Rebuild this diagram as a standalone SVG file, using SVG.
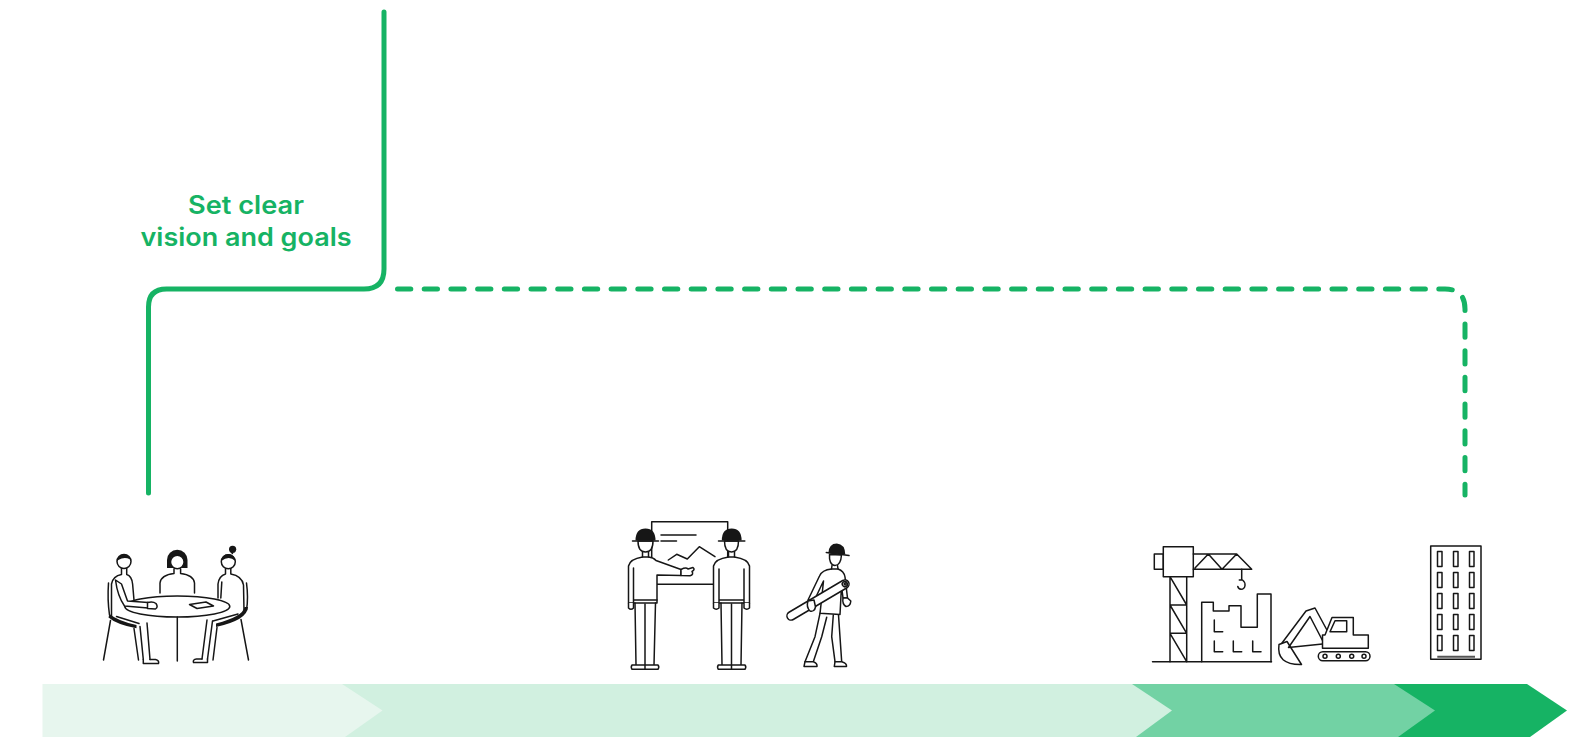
<svg xmlns="http://www.w3.org/2000/svg" width="1588" height="737" viewBox="0 0 1588 737">
  <style>
    .ln { fill: none; stroke: #161616; stroke-width: 1.5; stroke-linecap: round; stroke-linejoin: round; }
    .wf { fill: #ffffff; stroke: #161616; stroke-width: 1.5; stroke-linejoin: round; }
    .blk { fill: #161616; stroke: none; }
    .route { fill: none; stroke: #16b364; stroke-width: 5; stroke-linecap: round; stroke-linejoin: round; }
    .label { font-family: "Inter", "Liberation Sans", sans-serif; font-weight: 600; font-size: 25px; fill: #16b364; text-anchor: middle; }
  </style>

  <rect x="0" y="0" width="1588" height="737" fill="#ffffff"/>

  <!-- timeline band: stages drawn right to left so each overlaps the next -->
  <g id="timeline">
    <polygon points="1390,684 1527,684 1567,710.5 1530,737 1390,737" fill="#16b364"/>
    <polygon points="1130,684 1394,684 1435,710.5 1398,737 1130,737" fill="#72d2a4"/>
    <polygon points="340,684 1132,684 1172,710.5 1136,737 340,737" fill="#d1f0e0"/>
    <polygon points="42.5,684 342,684 382.5,710.5 345,737 42.5,737" fill="#e7f6ee"/>
  </g>

  <!-- connectors -->
  <g id="connectors">
    <path class="route" d="M148.5,493 L148.5,307 Q148.5,289 166.5,289 L364,289 Q384,289 384,269 L384,12"/>
    <path class="route" stroke-dasharray="13.3 13.4" d="M397.5,289 L1445,289 Q1465,289 1465,309 L1465,495"/>
  </g>

  <g id="label-vision">
    <text class="label" x="246" y="213.5" textLength="116" lengthAdjust="spacingAndGlyphs">Set clear</text>
    <text class="label" x="246" y="246" textLength="211" lengthAdjust="spacingAndGlyphs">vision and goals</text>
  </g>

  <!-- team meeting around a round table -->
  <g id="node-meeting">
    <!-- middle person -->
    <path class="blk" d="M167,568 L167,560 A10.2,10.2 0 0 1 187.5,560 L187.5,568 Z"/>
    <circle class="wf" cx="177.3" cy="562" r="6.8"/>
    <path class="ln" d="M174,569 L174,573.5 M180.6,569 L180.6,573.5 M174,573.5 Q161,575 160,583 L160,593 M180.6,573.5 Q193.5,575 194.5,583 L194.5,593"/>

    <!-- right person -->
    <path class="ln" d="M231.5,552 L232.5,553.5"/>
    <circle class="blk" cx="232.6" cy="549.3" r="3.6"/>
    <circle class="wf" cx="228.3" cy="561.8" r="7"/>
    <path class="blk" d="M221.3,561 A7,7 0 0 1 235.3,561 Q229,555 221.3,561 Z"/>
    <path class="ln" d="M225.5,569 L225.5,574 M230.8,569 L230.8,574 M225.5,574 Q219,576 218,584 L218,598 M230.8,574 Q242,576 243.5,585 L244,611 M221.8,582 L220.8,598"/>
    <path class="ln" d="M246.5,583 Q248.5,598 246.5,610"/>
    <path class="blk" d="M244.5,607 Q243,616.5 216,623.5 L216,627 Q247.5,620 248,607 Z"/>
    <path class="ln" d="M241,619.5 L248.5,660 M217,627.5 L213,660 M207,620 L202,659 M212.5,621 L207.5,659 M213,621 L238,614"/>
    <path class="ln" d="M207.5,659 L207.5,662.5 L193.5,662.5 Q192.5,659.5 196.5,659 L202,659"/>

    <!-- left person -->
    <circle class="wf" cx="124" cy="561.5" r="7"/>
    <path class="blk" d="M117,561.5 A7,7 0 0 1 131,561.5 L129.8,559.3 Q124.5,556.2 118.3,560 Z"/>
    <path class="ln" d="M121.5,568.5 L121.5,574.5 M126.7,568.5 L126.7,574.5 M121.5,574.5 Q113,576 111.5,584 L111.5,616 M126.7,574.5 Q131.8,576 132.6,584 L134,600"/>
    <path class="ln" d="M108.5,583 Q107.3,600 109.5,615"/>
    <path class="blk" d="M109.5,614 Q118,621 136.5,625 L136.5,628.3 Q116.5,624.5 108.5,617.5 Z"/>
    <path class="ln" d="M110.5,620.5 L103.5,660 M134,628.5 L138.5,660"/>
    <path class="ln" d="M116.5,616.5 L139,623.5 M140,626.5 L143.3,659.5 M147,623 L150,659.5"/>
    <path class="ln" d="M143.3,659.5 L143.3,663.5 L158.5,663.5 Q159.5,660.5 155.5,659.5 L150,659.5"/>

    <!-- table -->
    <ellipse class="wf" cx="177.3" cy="606.5" rx="52.5" ry="10.5"/>
    <path class="ln" d="M177.3,617 L177.3,661"/>
    <polygon class="wf" points="189.5,604.5 206,602 213.5,606 197,608.5"/>

    <!-- left person's arm resting on the table -->
    <path class="wf" d="M115.5,580 Q117.5,596 124.5,606 L148,608 L148,602.5 L127.5,601 L121.5,584 Z"/>
    <path class="wf" d="M147.5,602.5 Q153,601 156,603.5 Q158.5,607 155.5,609 L147.5,608.5 Z"/>
  </g>

  <!-- planning: two engineers at a board -->
  <g id="node-planning">
    <rect class="wf" x="651.7" y="521.7" width="76" height="62.6"/>
    <path class="ln" d="M661,535 L696,535 M661,541 L676.5,541"/>
    <path class="ln" d="M668.3,560 L676.7,554.3 L687.3,559 L699.3,546.7 L715,556.7"/>

    <!-- presenter -->
    <path class="wf" d="M642.5,557 Q630,559 628.5,566 L628.5,603 L657,603 L657,575 L681,575.5 L681,569.5 L656,560.5 Q653.5,557.5 648.5,557 Z"/>
    <path class="ln" d="M633.5,568 L633.5,603 M633.5,600 L657,600"/>
    <path class="wf" d="M681,569.5 Q686,567 688,569 L693,567.5 Q695.5,569.5 692,571.5 Q694,574.5 690,575.8 L681,575.5 Z"/>
    <path class="wf" d="M628.5,603 L628.5,608 Q631,610.5 633.5,608 L633.5,603"/>
    <path class="ln" d="M635,603 L636,665 M645,604 L645,665 M655.5,603 L654,665"/>
    <path class="wf" d="M632,665 L645,665 L645,669.3 L632,669.3 Q630.5,667 632,665 Z M645,665 L658,665 Q659.6,667 658,669.3 L645,669.3 Z"/>
    <path class="ln" d="M642.5,552 L642.5,557 M648.5,552 L648.5,557"/>
    <path class="wf" d="M638,541 C638,549 641,552 645.5,552 C650,552 653,549 653,541 Z"/>
    <path class="blk" d="M635.5,540.5 Q635.5,528.5 645.5,528.5 Q655.5,528.5 655.5,540.5 Z"/>
    <path class="ln" stroke-width="1.8" d="M632.5,541 L658.5,541"/>

    <!-- second engineer -->
    <path class="wf" d="M728.5,557 Q715,559 713.5,566 L713.5,603 L749.5,603 L749.5,566 Q748,559 734.5,557 Z"/>
    <path class="ln" d="M719,569 L719,603 M744,569 L744,603 M719,600 L744,600"/>
    <path class="wf" d="M713.5,603 L713.5,608 Q716.2,610.5 719,608 L719,603 M744,603 L744,608 Q746.7,610.5 749.5,608 L749.5,603"/>
    <path class="ln" d="M721,603 L722,665 M731.5,604 L731.5,665 M742,603 L741,665"/>
    <path class="wf" d="M718.3,665 L731.5,665 L731.5,669.3 L718.3,669.3 Q716.8,667 718.3,665 Z M731.5,665 L745,665 Q746.6,667 745,669.3 L731.5,669.3 Z"/>
    <path class="ln" d="M728.5,552 L728.5,557 M734.5,552 L734.5,557"/>
    <path class="wf" d="M724.5,541 C724.5,549 727.5,552 731.5,552 C735.5,552 738.5,549 738.5,541 Z"/>
    <path class="blk" d="M721.8,540.5 Q721.8,528.5 731.7,528.5 Q741.6,528.5 741.6,540.5 Z"/>
    <path class="ln" stroke-width="1.8" d="M718.5,541 L744.8,541"/>
  </g>

  <!-- worker carrying a rolled plan -->
  <g id="node-worker">
    <path class="ln" d="M820,613.3 L815,636.7 L805,661.7 M826.7,617.3 L821.7,636.7 L813.3,661.7"/>
    <path class="ln" d="M833.3,615 L831.7,636.7 L835,661.7 M838.5,615 L841.7,661.7"/>
    <path class="wf" d="M805,661.7 L804,666.5 L817,666.5 Q817.5,663 813.3,661.7 Z M835,661.7 L834.3,666.5 L846.5,666.5 Q847,663 841.7,661.7 Z"/>
    <path class="wf" d="M831.5,569 Q822,570 819.5,576 L808,600 L814,601 L823.5,581 L821.5,600 L820,613.3 L840,614.5 L841.5,586 L843,598 L847.5,598 L845,577 Q844,571 838,569 Z"/>
    <path class="wf" d="M843,598 Q842,604 846,606.5 Q850.5,606.3 850.8,601 L847.5,598 Z"/>
    <path class="ln" d="M832,565.5 L831.5,569 M837.5,565.5 L838,569"/>
    <path class="wf" d="M829.5,554.5 C829,561 831,565.5 835,565.5 C839,565.5 841,562 841.5,555 Z"/>
    <path class="blk" d="M828.3,553.3 Q828.8,543.5 836.8,543.5 Q845,544 845.3,554.6 Z"/>
    <path class="ln" stroke-width="1.8" d="M826.3,552.6 L849,555.6"/>
    <g transform="translate(818,600) rotate(-30.6)">
      <rect class="wf" x="-35.4" y="-4.2" width="70.8" height="8.4" rx="4.2"/>
      <circle class="ln" cx="31.2" cy="0" r="2.6"/>
      <circle class="ln" cx="31.6" cy="0" r="1"/>
    </g>
    <path class="wf" d="M808,601 Q806,607 810,611 Q814.5,612 815.5,607 L814,600 Z"/>
  </g>

  <!-- construction site: crane, building shell, excavator -->
  <g id="node-construction">
    <path class="ln" d="M1152.5,661.7 L1271.5,661.7"/>
    <path class="ln" d="M1170,576.7 L1170,661.7 M1186.7,576.7 L1186.7,661.7 M1170,605 L1186.7,605 M1170,633.3 L1186.7,633.3 M1170,576.7 L1186.7,605 M1170,605 L1186.7,633.3 M1170,633.3 L1186.7,661.7"/>
    <rect class="wf" x="1154.3" y="554" width="9" height="15.3"/>
    <rect class="wf" x="1163.3" y="546.7" width="30" height="30"/>
    <path class="ln" d="M1193.3,554 L1236.7,554 M1193.3,569.3 L1251.7,569.3 M1195,568 L1208.3,554 L1222,569.3 L1236.7,554 L1251.7,569.3"/>
    <path class="ln" d="M1241.7,569.3 L1241.7,580 M1239.3,580 L1242.5,580 Q1245.3,582 1245,585.5 Q1244.5,589.3 1241,589.3 Q1238.3,589 1237.8,586.5"/>

    <path class="ln" d="M1201.7,661.7 L1201.7,602.3 L1213.3,602.3 L1213.3,611 L1229,611 L1229,605.7 L1241,605.7 L1241,627.3 L1257.3,627.3 L1257.3,594 L1271,594 L1271,661.7"/>
    <path class="ln" d="M1214.3,620 L1214.3,631.7 L1222.7,631.7 M1214.3,641 L1214.3,651.7 L1222.7,651.7 M1233.3,641 L1233.3,651.7 L1241.7,651.7 M1252.7,641 L1252.7,651.7 L1261,651.7"/>

    <path class="ln" d="M1279,644.5 L1287,641.5 L1301.5,664.5 Q1276,665 1279,644.5 Z"/>
    <path class="ln" d="M1282,643 L1306,611 L1315,608 L1328,632 M1288.5,647.5 L1310,616.5 L1322.5,640.5 M1288.5,647.5 L1322.5,644"/>
    <path class="wf" d="M1325,635 L1332,617.5 L1353.3,617.5 L1353.3,635 L1368.3,635 L1368.3,648.3 L1322.5,648.3 L1322.5,635 Z"/>
    <path class="ln" d="M1330,631.7 L1335,620.7 L1346.7,620.7 L1346.7,631.7 Z"/>
    <rect class="ln" x="1318.3" y="651.7" width="51.7" height="9" rx="4.5"/>
    <circle class="ln" cx="1325" cy="656.2" r="2"/>
    <circle class="ln" cx="1338.3" cy="656.2" r="2"/>
    <circle class="ln" cx="1351.7" cy="656.2" r="2"/>
    <circle class="ln" cx="1364" cy="656.2" r="2"/>
  </g>

  <!-- finished tower block -->
  <g id="node-building">
    <rect class="ln" x="1430.7" y="546" width="50.3" height="113.3"/>
    <g class="ln">
      <rect x="1437.5" y="551.5" width="4.5" height="15"/><rect x="1453.5" y="551.5" width="4.5" height="15"/><rect x="1469.5" y="551.5" width="4.5" height="15"/>
      <rect x="1437.5" y="572.5" width="4.5" height="15"/><rect x="1453.5" y="572.5" width="4.5" height="15"/><rect x="1469.5" y="572.5" width="4.5" height="15"/>
      <rect x="1437.5" y="593.5" width="4.5" height="15"/><rect x="1453.5" y="593.5" width="4.5" height="15"/><rect x="1469.5" y="593.5" width="4.5" height="15"/>
      <rect x="1437.5" y="614.5" width="4.5" height="15"/><rect x="1453.5" y="614.5" width="4.5" height="15"/><rect x="1469.5" y="614.5" width="4.5" height="15"/>
      <rect x="1437.5" y="635.5" width="4.5" height="15"/><rect x="1453.5" y="635.5" width="4.5" height="15"/><rect x="1469.5" y="635.5" width="4.5" height="15"/>
    </g>
    <path d="M1437.3,656.7 L1475,656.7" stroke="#555555" stroke-width="2" fill="none"/>
  </g>
</svg>
